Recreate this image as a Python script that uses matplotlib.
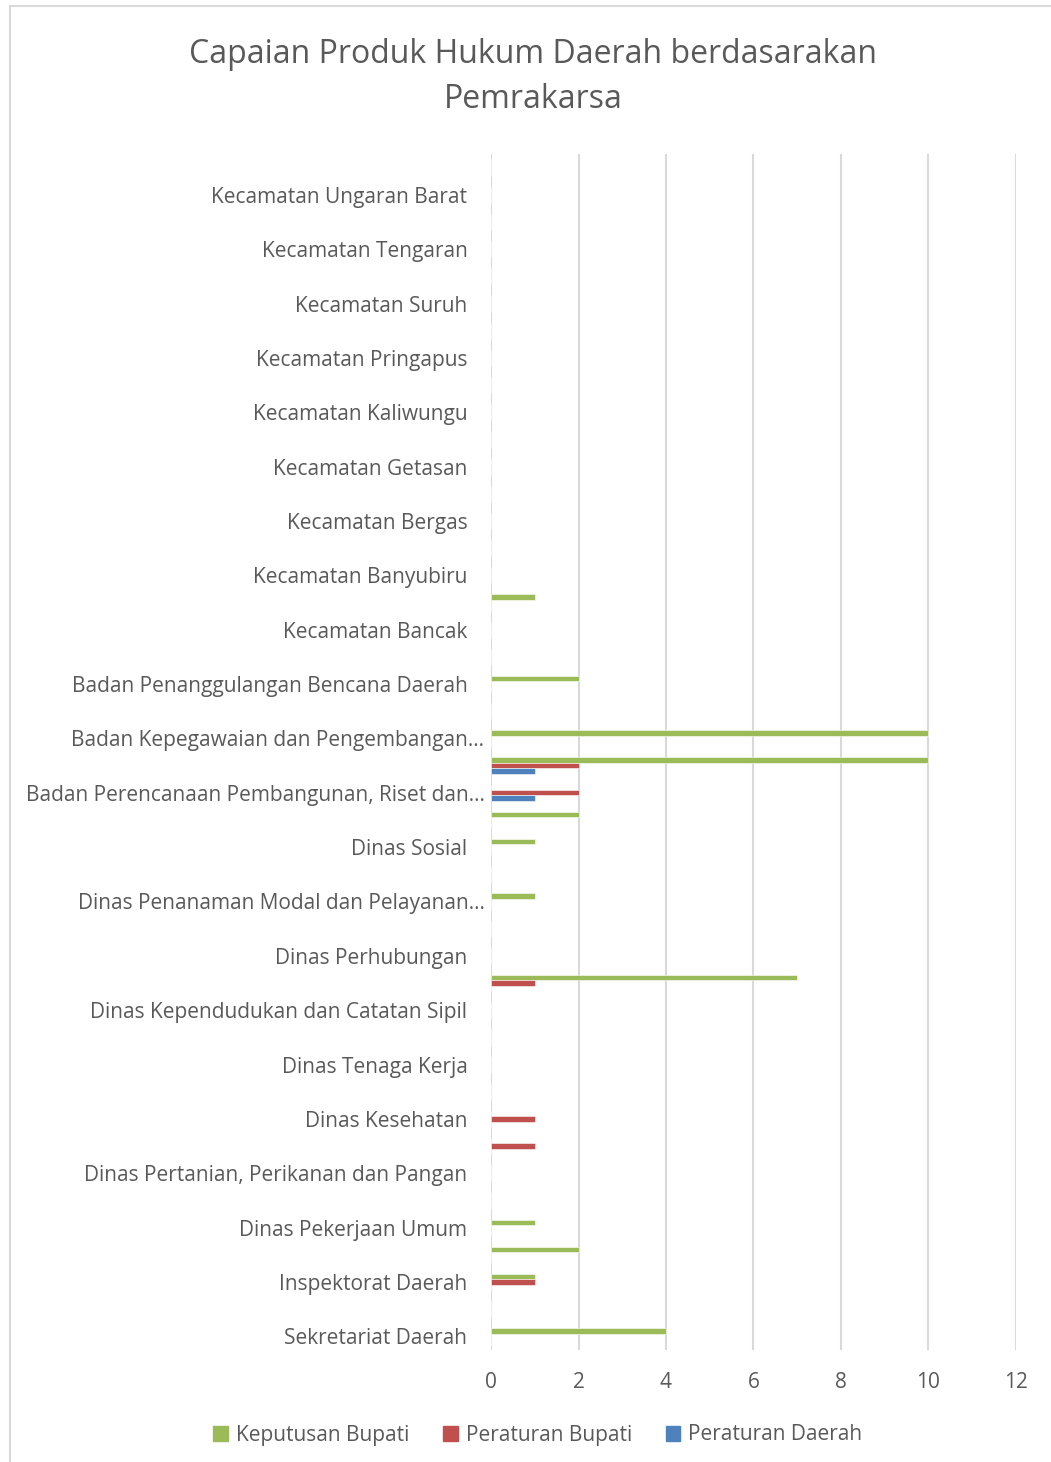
import matplotlib
matplotlib.use('Agg')
from matplotlib import pyplot as plt
from matplotlib.patches import Rectangle
from matplotlib.transforms import ScaledTranslation
import numpy as np


# categories from bottom to top; Excel shows only every other label
categories = [
    'Sekretariat Daerah', 'Sekretariat DPRD',
    'Inspektorat Daerah', 'Dinas Pendidikan',
    'Dinas Pekerjaan Umum', 'Dinas Perumahan dan Kawasan Permukiman',
    'Dinas Pertanian, Perikanan dan Pangan', 'Dinas Lingkungan Hidup',
    'Dinas Kesehatan', 'Dinas Pemberdayaan Masyarakat dan Desa',
    'Dinas Tenaga Kerja', 'Dinas Pariwisata',
    'Dinas Kependudukan dan Catatan Sipil', 'Dinas Komunikasi dan Informatika',
    'Dinas Perhubungan', 'Dinas Perdagangan',
    'Dinas Penanaman Modal dan Pelayanan\u2026', 'Dinas Perpustakaan dan Kearsipan',
    'Dinas Sosial', 'Satuan Polisi Pamong Praja',
    'Badan Perencanaan Pembangunan, Riset dan\u2026', 'Badan Keuangan Daerah',
    'Badan Kepegawaian dan Pengembangan\u2026', 'Badan Kesatuan Bangsa dan Politik',
    'Badan Penanggulangan Bencana Daerah', 'Kecamatan Ambarawa',
    'Kecamatan Bancak', 'Kecamatan Bandungan',
    'Kecamatan Banyubiru', 'Kecamatan Bawen',
    'Kecamatan Bergas', 'Kecamatan Bringin',
    'Kecamatan Getasan', 'Kecamatan Jambu',
    'Kecamatan Kaliwungu', 'Kecamatan Pabelan',
    'Kecamatan Pringapus', 'Kecamatan Sumowono',
    'Kecamatan Suruh', 'Kecamatan Susukan',
    'Kecamatan Tengaran', 'Kecamatan Tuntang',
    'Kecamatan Ungaran Barat', 'Kecamatan Ungaran Timur',
]

keputusan_bupati = [4, 0, 1, 2, 1, 0, 0, 0, 0, 0, 0, 0, 0, 7, 0, 0, 1, 0, 1, 2, 0, 10,
                    10, 0, 2, 0, 0, 1, 0, 0, 0, 0, 0, 0, 0, 0, 0, 0, 0, 0, 0, 0, 0, 0]
peraturan_bupati = [0, 0, 1, 0, 0, 0, 0, 1, 1, 0, 0, 0, 0, 1, 0, 0, 0, 0, 0, 0, 2, 2,
                    0, 0, 0, 0, 0, 0, 0, 0, 0, 0, 0, 0, 0, 0, 0, 0, 0, 0, 0, 0, 0, 0]
peraturan_daerah = [0, 0, 0, 0, 0, 0, 0, 0, 0, 0, 0, 0, 0, 0, 0, 0, 0, 0, 0, 0, 1, 1,
                    0, 0, 0, 0, 0, 0, 0, 0, 0, 0, 0, 0, 0, 0, 0, 0, 0, 0, 0, 0, 0, 0]

series = [
    ('Keputusan Bupati', keputusan_bupati, '#9BBB59', 0.2),
    ('Peraturan Bupati', peraturan_bupati, '#C0504D', 0.0),
    ('Peraturan Daerah', peraturan_daerah, '#4F81BD', -0.2),
]

text_color = '#595959'
plt.rcParams['font.family'] = ['Open Sans', 'DejaVu Sans']

fig = plt.figure(figsize=(10.51, 14.62), dpi=100)
ax = fig.add_axes([491 / 1051, 1 - 1350 / 1462, 525 / 1051, 1196 / 1462])

y = np.arange(len(categories))
for name, vals, color, off in series:
    ax.barh(y + off, vals, height=0.2, color=color, edgecolor='white',
            linewidth=0.4, label=name, zorder=3)

ax.set_xlim(0, 12)
ax.set_ylim(-0.5, len(categories) - 0.5)
ax.set_xticks(range(0, 13, 2))
ax.set_yticks(y[::2])
ax.set_yticklabels(categories[::2])
ax.grid(axis='x', color='#D9D9D9', linewidth=1.5, zorder=0)
for s in ax.spines.values():
    s.set_visible(False)
ax.tick_params(axis='both', length=0, labelsize=15, colors=text_color)
ax.tick_params(axis='y', pad=17)
ax.tick_params(axis='x', pad=16)

# truncated labels sit closer to the axis, like in Excel
for lbl in ax.get_yticklabels():
    if lbl.get_text().endswith('\u2026'):
        lbl.set_transform(lbl.get_transform() + ScaledTranslation(0.17, 0, fig.dpi_scale_trans))

fig.text(533 / 1051, 1 - 77 / 1462, 'Capaian Produk Hukum Daerah berdasarakan\nPemrakarsa',
         ha='center', va='center', fontsize=23, color=text_color, linespacing=1.5)

handles = [Rectangle((0, 0), 1, 1, color=c) for _, _, c, _ in series]
fig.legend(handles, [n for n, _, _, _ in series], loc='center',
           bbox_to_anchor=(538 / 1051, 1 - 1435 / 1462), ncol=3, frameon=False,
           fontsize=15, labelcolor=text_color, handlelength=0.7, handleheight=0.7,
           handletextpad=0.4, columnspacing=1.6)

# chart border
fig.add_artist(Rectangle((9.5 / 1051, -0.01), 1.1, 1 - 6.5 / 1462 + 0.01,
                         transform=fig.transFigure, fill=False,
                         edgecolor='#D9D9D9', linewidth=1.5))

fig.savefig('out.png', dpi=100)
